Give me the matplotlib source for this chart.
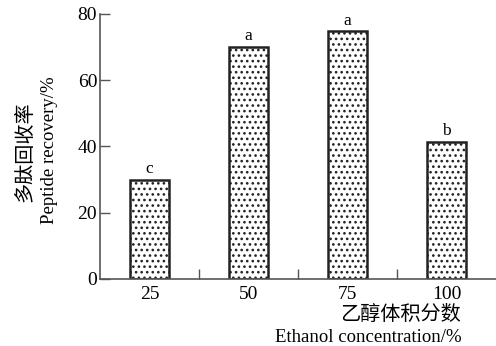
import matplotlib
matplotlib.use("Agg")
import matplotlib.pyplot as plt

# ethanol concentration vs peptide recovery
concentrations = ["25", "50", "75", "100"]
recovery = [29.8, 70.1, 74.8, 41.4]
letters = ["c", "a", "a", "b"]

serif = ["Liberation Serif", "DejaVu Serif"]
cjk = ["Noto Sans CJK SC", "DejaVu Sans"]

plt.rcParams["font.family"] = serif
plt.rcParams["hatch.linewidth"] = 1.1
plt.rcParams["hatch.color"] = "#15153a"

fig = plt.figure(figsize=(4.96, 3.46), dpi=100)
ax = fig.add_axes([100 / 496, (346 - 278.7) / 346, 396 / 496, 264.7 / 346])

x = range(len(concentrations))
bars = ax.bar(x, recovery, width=0.4, color="white", edgecolor="#222222",
              linewidth=1.8, hatch="...")

for xi, v, t in zip(x, recovery, letters):
    ax.text(xi, v + 0.8, t, ha="center", va="bottom", fontsize=12.5)

ax.set_xlim(-0.5, 3.5)
ax.set_ylim(0, 80)
ax.set_yticks([0, 20, 40, 60, 80])
ax.set_xticks(list(x))
ax.set_xticklabels(concentrations)
ax.set_xticks([0.5, 1.5, 2.5], minor=True)
ax.tick_params(axis="x", which="major", length=0, pad=5, labelsize=14)
ax.tick_params(axis="x", which="minor", direction="in", length=7, width=1,
               color="#555555")
ax.tick_params(axis="y", direction="in", length=7, width=1, pad=2,
               labelsize=14, color="#555555")

for s in ("top", "right"):
    ax.spines[s].set_visible(False)
for s in ("left", "bottom"):
    ax.spines[s].set_linewidth(1.2)
    ax.spines[s].set_color("#555555")

# two-line axis titles: Chinese on one line, English below it
fig.text(25 / 496, 1 - 152 / 346, "多肽回收率", rotation=90, ha="center",
         va="center", fontsize=14.5, family=cjk)
fig.text(50 / 496, 1 - 150 / 346, "Peptide recovery/%", rotation=90,
         ha="center", va="center", fontsize=13.5)
fig.text(400 / 496, 1 - 314 / 346, "乙醇体积分数", ha="center", va="center",
         fontsize=14.5, family=cjk)
fig.text(462 / 496, 1 - 337 / 346, "Ethanol concentration/%", ha="right",
         va="center", fontsize=13.5)

fig.savefig("out.png", dpi=100)
